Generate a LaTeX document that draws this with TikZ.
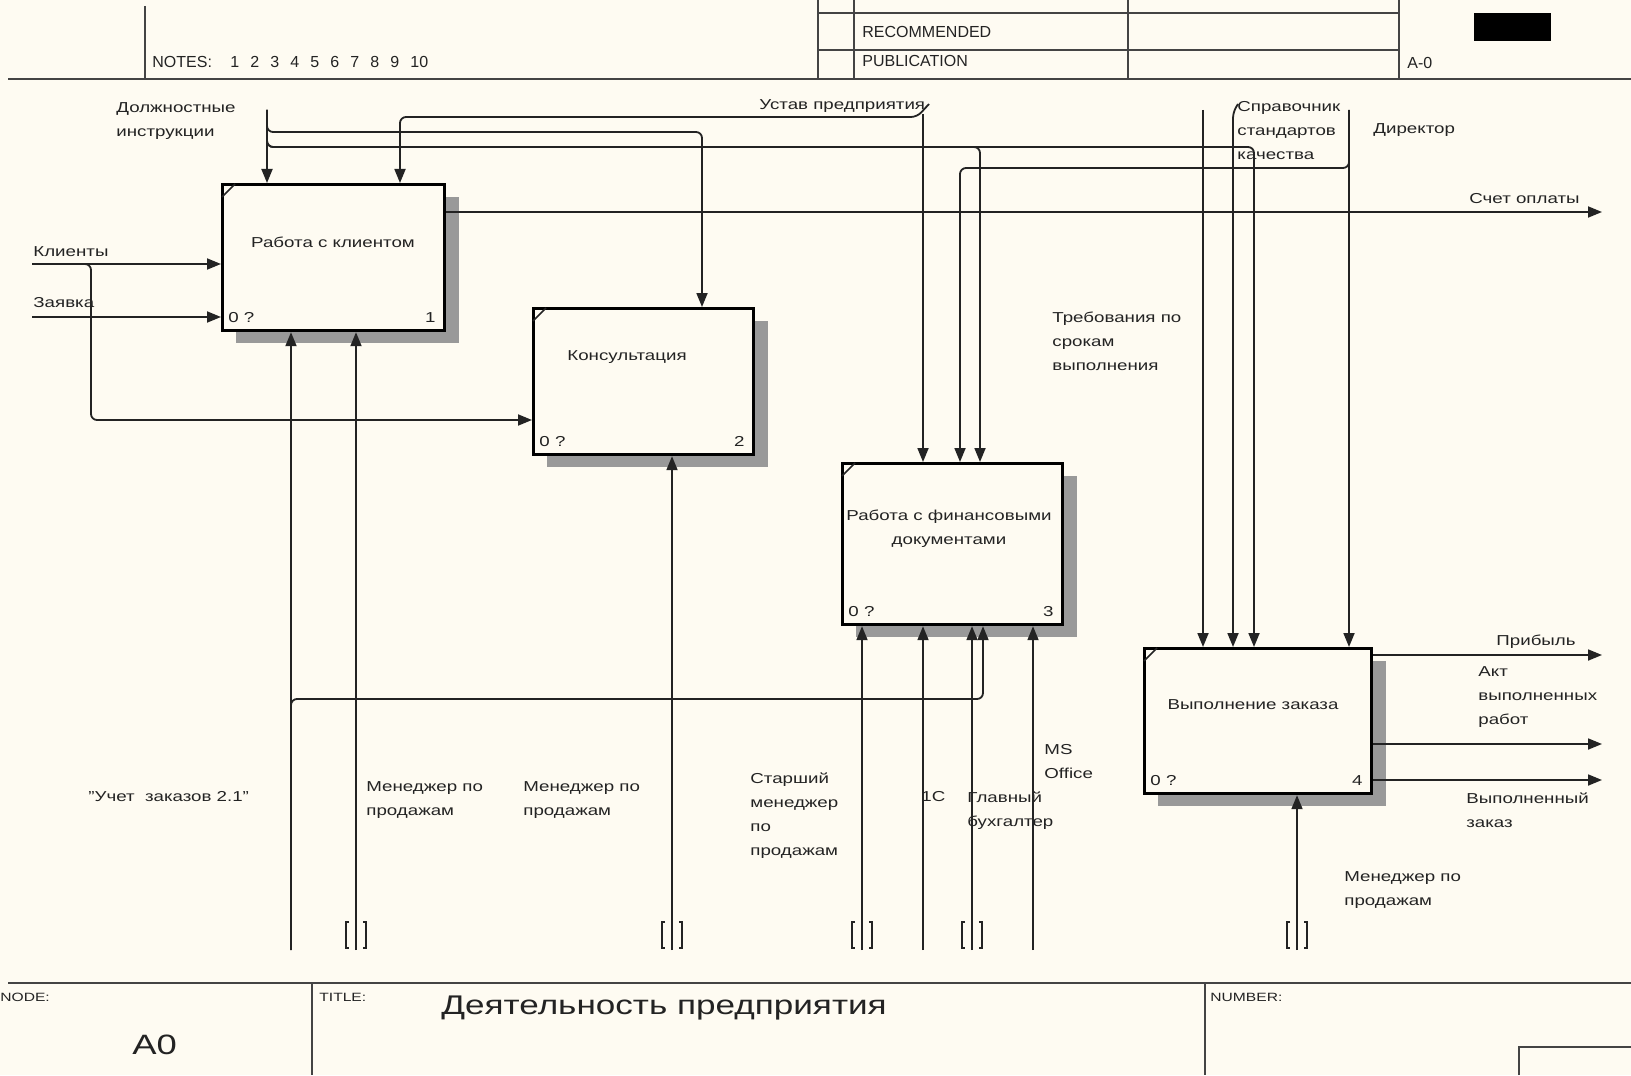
\documentclass[tikz,border=0pt]{standalone}
\usepackage{fontspec}
\setmainfont{Liberation Sans}[FakeStretch=1.3]
\newfontfamily\hdrfont{Liberation Sans}
\usetikzlibrary{arrows.meta}
\definecolor{paper}{RGB}{254,251,242}
\definecolor{ink}{RGB}{35,35,35}
\tikzset{>={Triangle[length=7pt,width=5.5pt]},every node/.style={font=\fontsize{7.2}{12}\selectfont,text=ink,inner sep=0pt},
flow/.style={draw=ink,line width=.9pt,rounded corners=3pt},rule/.style={draw=ink!85,line width=.9pt},
act/.style={draw=black,line width=1.6pt,fill=paper,anchor=north west},lbl/.style={anchor=north west,align=left},
hdr/.style={anchor=west,font=\hdrfont\fontsize{8}{10}\selectfont},tun/.style={draw=ink,line width=.7pt}}

\begin{document}
\begin{tikzpicture}[x=.5pt,y=-.5pt]
\useasboundingbox (0,0) rectangle (1631,1075);\fill[paper] (0,0) rectangle (1631,1075);
\draw[rule] (145,6) -- (145,79);\foreach \x in {818,854,1128,1399}{\draw[rule] (\x,0) -- (\x,79);}
\draw[rule] (818,13) -- (1399,13) (818,50) -- (1399,50);\draw[rule,line width=1.3pt] (8,79) -- (1631,79);
\node[hdr] (notes) at (152,62) {NOTES:};\foreach \n in {1,...,10}{\node[hdr] (note\n) at ({210+20*\n},62) {\n};}
\node[hdr] (recom) at (862,32) {RECOMMENDED};\node[hdr] (publ) at (862,61) {PUBLICATION};\node[hdr] (sheet) at (1407,63) {A-0};
\fill[black] (1474,13) rectangle (1551,41);
\foreach \n/\x/\y/\w/\h in {1/221/183/222/146,2/532/307/220/146,3/841/462/220/161,4/1143/647/227/145}{
\fill[black!40] (\x+15,\y+14) rectangle (\x+\w+16,\y+\h+14);
\node[act,minimum width=\w*.5pt,minimum height=\h*.5pt] (b\n) at (\x,\y) {};\draw[ink,line width=.8pt] (\x+1,\y+14) -- (\x+14,\y+1);
\node[anchor=south west] (q\n) at (\x+7,\y+\h-6) {0 ?};\node[anchor=south east] (n\n) at (\x+\w-7,\y+\h-6) {\n};}
\node (t1) at (333,242) {Работа с клиентом};\node (t2) at (627,357) {Консультация};
\node[align=center] (t3) at (949,529) {Работа с финансовыми\\документами};\node (t4) at (1253,705) {Выполнение заказа};
\node[lbl] (dolz) at (116,102) {Должностные\\инструкции};\node[lbl] (ustav) at (759,99) {Устав предприятия};
\node[lbl] (sprav) at (1237,101) {Справочник\\стандартов\\качества};\node[lbl] (direk) at (1373,123) {Директор};
\node[lbl] (schet) at (1469,193) {Счет оплаты};\node[lbl] (klient) at (33,246) {Клиенты};\node[lbl] (zayav) at (33,297) {Заявка};
\node[lbl] (treb) at (1052,312) {Требования по\\срокам\\выполнения};\node[lbl] (prib) at (1496,635) {Прибыль};
\node[lbl] (akt) at (1478,666) {Акт\\выполненных\\работ};\node[lbl] (vypz) at (1466,792) {Выполненный\\заказ};
\node[lbl] (uchet) at (88,791) {"Учет\ \ заказов 2.1"};\node[lbl] (men1) at (366,781) {Менеджер по\\продажам};
\node[lbl] (men2) at (523,781) {Менеджер по\\продажам};\node[lbl] (star) at (750,772) {Старший\\менеджер\\по\\продажам};
\node[lbl] (odin) at (921,791) {1С};\node[lbl] (glav) at (967,791) {Главный\\бухгалтер};\node[lbl] (mso) at (1044,744) {MS\\Office};
\node[lbl] (men4) at (1344,871) {Менеджер по\\продажам};
\coordinate (kl) at (32,264);\coordinate (kl2) at (91,420);\coordinate (zv) at (32,317);
\coordinate (di) at (267,110);\coordinate (di1) at (702,132);\coordinate (di2) at (980,147);\coordinate (di3) at (1254,147);
\coordinate (ust) at (929,104);\coordinate (us) at (923,114);\coordinate (us1) at (400,117);
\coordinate (dr) at (1349,110);\coordinate (dr1) at (960,168);\coordinate (sp) at (1233,112);\coordinate (tr) at (1203,110);
\coordinate (so) at (1602,212);\coordinate (pr) at (1602,655);\coordinate (ak) at (1602,744);\coordinate (vz) at (1602,780);\coordinate (uz) at (983,699);
\foreach \m/\x in {1/291,2/356,3/672,4/862,5/923,6/972,7/1033,8/1297}{\coordinate (m\m) at (\x,950);}
\draw[flow,->] (kl) -- (kl -| b1.west);\draw[flow,->] (kl) -| (kl2) -- (kl2 -| b2.west);\draw[flow,->] (zv) -- (zv -| b1.west);
\draw[flow,->] (di) -- (di |- b1.north);\foreach \c/\b in {di1/b2,di2/b3,di3/b4}{\draw[flow,->] (di) |- (\c) -- (\c |- \b.north);}
\draw[flow,->] (ust) -- ++(-12,13) -- (us1) -- (us1 |- b1.north);\draw[flow,->] (us) -- (us |- b3.north);
\draw[flow,->] (dr) -- (dr |- b4.north);\draw[flow,->] (dr) |- (dr1) -- (dr1 |- b3.north);
\draw[flow,->] (sp) ++(5,-8) -- (sp) -- (sp |- b4.north);\draw[flow,->] (tr) -- (tr |- b4.north);
\draw[flow,->] (so -| b1.east) -- (so);\foreach \c in {pr,ak,vz}{\draw[flow,->] (\c -| b4.east) -- (\c);}
\foreach \m/\b in {1/b1,2/b1,3/b2,4/b3,5/b3,6/b3,7/b3,8/b4}{\draw[flow,->] (m\m) -- (m\m |- \b.south);}
\draw[flow,->] (m1) |- (uz) -- (uz |- b3.south);
\foreach \m in {2,3,4,6,8}{\draw[tun,shift={(m\m)}] (-7,-28) -- ++(-3,0) -- ++(0,26) -- ++(3,0) (7,-28) -- ++(3,0) -- ++(0,26) -- ++(-3,0);}
\draw[rule,line width=1.3pt] (8,983) -- (1631,983);\draw[rule] (312,983) -- (312,1075) (1205,983) -- (1205,1075) (1519,1075) -- (1519,1047) -- (1631,1047);
\node[anchor=west,font=\fontsize{6}{7}\selectfont] (nodel) at (0,997) {NODE:};\node[anchor=west,font=\fontsize{6}{7}\selectfont] (titl) at (319,997) {TITLE:};
\node[anchor=west,font=\fontsize{6}{7}\selectfont] (numb) at (1210,997) {NUMBER:};
\node[anchor=north west,font=\fontsize{14}{16}\selectfont] (anode) at (132,1035) {A0};
\node[anchor=north west,font=\fontsize{13.5}{16}\selectfont] (title) at (441,996) {Деятельность предприятия};
\end{tikzpicture}
\end{document}
